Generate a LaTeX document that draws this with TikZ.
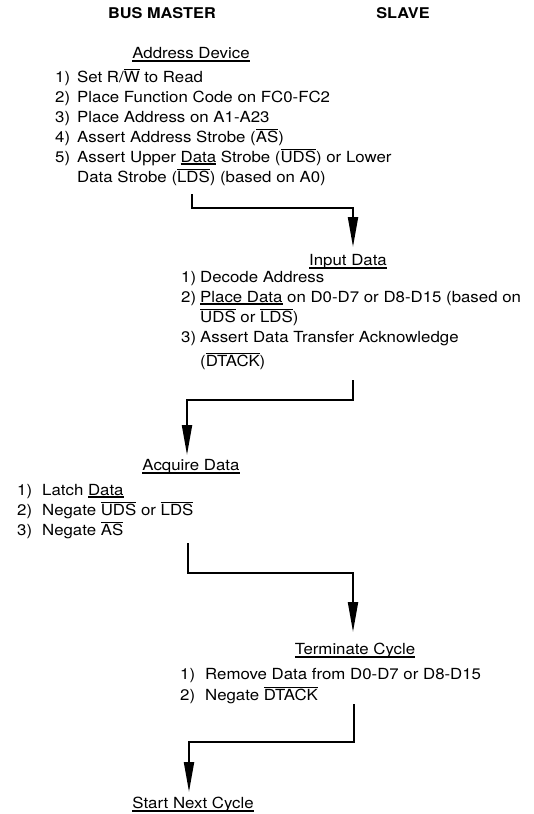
\documentclass[tikz,border=0pt]{standalone}
\usepackage{fontspec}
\setmainfont{TeX Gyre Heros}[FakeStretch=1.1]
\usetikzlibrary{arrows.meta}
\newlength\barw
\newcommand\ovl[1]{\settowidth\barw{#1}\rlap{\rule[0.8em]{\barw}{1.1pt}}#1}
\newcommand\uln[1]{\settowidth\barw{#1}\rlap{\rule[-4pt]{\barw}{1.8pt}}#1}
\newcommand\ulthin[1]{\settowidth\barw{#1}\rlap{\rule[-2.5pt]{\barw}{1.1pt}}#1}
\newcommand\nm[2]{\makebox[#1pt][l]{#2}}
\begin{document}
\begin{tikzpicture}[x=1pt,y=-1pt,
  txt/.style={inner sep=0pt, anchor=base west, font=\fontsize{15.3}{20}\selectfont},
  head/.style={inner sep=0pt, anchor=base, font=\fontsize{15.3}{20}\selectfont},
  boldhead/.style={inner sep=0pt, anchor=base, font=\fontsize{14.8}{20}\selectfont\bfseries},
  conn/.style={line width=2pt, -{Triangle[length=30pt,width=10pt]}}]
\useasboundingbox (0,0) rectangle (533,814);
% column headings
\node[boldhead] (bm) at (162,18) {BUS MASTER};
\node[boldhead] (sl) at (403,18) {SLAVE};
% Address Device
\node[head] (adh) at (191,58) {\uln{Address Device}};
\node[txt] (ad1) at (55,82) {\nm{22}{1)}Set R/\ovl{W} to Read};
\node[txt] (ad2) at (55,102) {\nm{22}{2)}Place Function Code on FC0-FC2};
\node[txt] (ad3) at (55,122) {\nm{22}{3)}Place Address on A1-A23};
\node[txt] (ad4) at (55,142) {\nm{22}{4)}Assert Address Strobe (\ovl{AS})};
\node[txt] (ad5) at (55,162) {\nm{22}{5)}Assert Upper \ulthin{Data} Strobe (\ovl{UDS}) or Lower};
\node[txt] (ad6) at (77,182) {Data Strobe (\ovl{LDS}) (based on A0)};
% Input Data
\node[head] (idh) at (348,265) {\uln{Input Data}};
\node[txt] (id1) at (181,282) {\nm{19}{1)}Decode Address};
\node[txt] (id2) at (181,302) {\nm{19}{2)}\ulthin{Place Data} on D0-D7 or D8-D15 (based on};
\node[txt] (id3) at (200,322) {\ovl{UDS} or \ovl{LDS})};
\node[txt] (id4) at (181,342) {\nm{19}{3)}Assert Data Transfer Acknowledge};
\node[txt] (id5) at (200,366) {(\ovl{DTACK})};
% Acquire Data
\node[head] (aqh) at (191,470) {\uln{Acquire Data}};
\node[txt] (aq1) at (17,495) {\nm{25}{1)}Latch \ulthin{Data}};
\node[txt] (aq2) at (17,515) {\nm{25}{2)}Negate \ovl{UDS} or \ovl{LDS}};
\node[txt] (aq3) at (17,535) {\nm{25}{3)}Negate \ovl{AS}};
% Terminate Cycle
\node[head] (tch) at (355,654) {\uln{Terminate Cycle}};
\node[txt] (tc1) at (180,679) {\nm{25}{1)}Remove Data from D0-D7 or D8-D15};
\node[txt] (tc2) at (180,700) {\nm{25}{2)}Negate \ovl{DTACK}};
% Start Next Cycle
\node[head] (snh) at (193,808) {\uln{Start Next Cycle}};
% connector end points
\coordinate (s1) at (192,194); \coordinate (t1) at (353,247);
\coordinate (s2) at (353,380); \coordinate (t2) at (187,455);
\coordinate (s3) at (188,543); \coordinate (t3) at (353,632);
\coordinate (s4) at (354,704); \coordinate (t4) at (189,792);
\draw[conn] (s1) -- ++(0,14) -| (t1);
\draw[conn] (s2) -- ++(0,20) -| (t2);
\draw[conn] (s3) -- ++(0,30) -| (t3);
\draw[conn] (s4) -- ++(0,38) -| (t4);
\end{tikzpicture}
\end{document}
